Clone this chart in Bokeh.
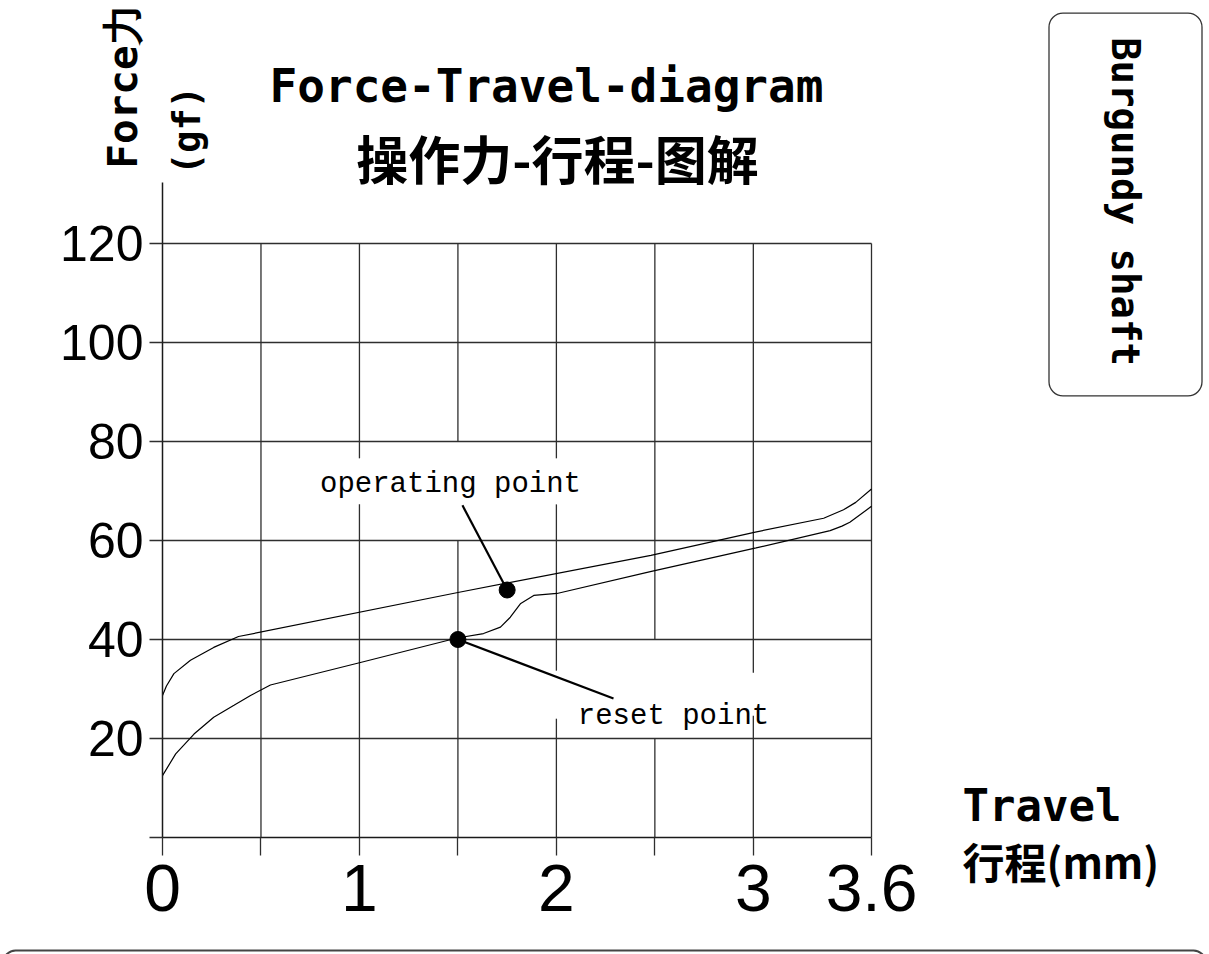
import math
from bokeh.plotting import figure
from bokeh.models import Range1d, FixedTicker, Label, BoxAnnotation
from bokeh.embed import file_html
from bokeh.resources import INLINE

# ---------------- data ----------------
x_ticks = [0, 1, 2, 3, 3.6]
x_tick_labels = ["0", "1", "2", "3", "3.6"]
x_minor_ticks = [0.5, 1.5, 2.5]
y_ticks = [0, 20, 40, 60, 80, 100, 120]
y_tick_labels = ["", "20", "40", "60", "80", "100", "120"]

# operating (press) curve
press_x = [0.0, 0.02, 0.058, 0.142, 0.26, 0.386, 1.5, 2.48, 3.01, 3.357, 3.458, 3.52, 3.6]
press_y = [28.7, 30.6, 33.1, 35.8, 38.4, 40.6, 49.5, 57.0, 61.7, 64.5, 66.2, 67.7, 70.4]

# reset (release) curve
release_x = [0.0, 0.067, 0.16, 0.26, 0.363, 0.447, 0.548, 1.0, 1.496, 1.63, 1.716,
             1.766, 1.817, 1.885, 2.003, 2.477, 3.014, 3.39, 3.45, 3.49, 3.6]
release_y = [12.5, 16.9, 20.9, 24.3, 26.7, 28.7, 30.8, 35.3, 40.3, 41.2, 42.5,
             44.5, 47.2, 48.9, 49.3, 53.7, 58.5, 62.0, 62.9, 63.7, 66.9]

point_names = ["operating point", "reset point"]
point_x = [1.75, 1.5]
point_y = [50.0, 40.0]

# ---------------- figure ----------------
W, H = 1209, 954
X0PX, X36PX = 162, 871          # pixel positions of x=0 and x=3.6
Y0PX, Y120PX = 837, 243         # pixel positions of y=0 and y=120
sx = (X36PX - X0PX) / 3.6
sy = (Y0PX - Y120PX) / 120.0

p = figure(width=W, height=H,
           x_range=Range1d(-X0PX / sx, (W - X0PX) / sx),
           y_range=Range1d(-(H - Y0PX) / sy, Y0PX / sy),
           output_backend="svg", toolbar_location=None,
           min_border=0)
p.outline_line_color = None
p.grid.visible = False
p.background_fill_color = "white"
p.border_fill_color = "white"

AX = "#1a1a1a"
GR = "#2e2e2e"
y_axis_top = 132.3

xa = p.xaxis[0]
xa.fixed_location = 0
xa.bounds = (0, x_ticks[-1])
xa.ticker = FixedTicker(ticks=x_ticks, minor_ticks=x_minor_ticks)
xa.major_label_overrides = {t: s for t, s in zip(x_ticks, x_tick_labels)}
xa.axis_line_color = AX
xa.axis_line_width = 1.5
xa.major_tick_out = 18
xa.major_tick_in = 0
xa.minor_tick_out = 18
xa.minor_tick_in = 0
xa.major_tick_line_color = GR
xa.minor_tick_line_color = GR
xa.major_tick_line_width = 1.3
xa.minor_tick_line_width = 1.3
xa.major_label_standoff = 9
xa.major_label_text_font = "Liberation Sans"
xa.major_label_text_font_size = "66px"
xa.major_label_text_color = "black"

ya = p.yaxis[0]
ya.fixed_location = 0
ya.bounds = (0, y_axis_top)
ya.ticker = FixedTicker(ticks=y_ticks, minor_ticks=[])
ya.major_label_overrides = {t: s for t, s in zip(y_ticks, y_tick_labels)}
ya.axis_line_color = AX
ya.axis_line_width = 1.5
ya.major_tick_out = 13
ya.major_tick_in = 0
ya.major_tick_line_color = GR
ya.major_tick_line_width = 1.3
ya.minor_tick_line_color = None
ya.major_label_standoff = 6
ya.major_label_text_font = "Liberation Sans"
ya.major_label_text_font_size = "50px"
ya.major_label_text_color = "black"

# ---------------- grid (drawn as segments, with the drawing's gaps) ----------------
x_right = x_ticks[-1]
h_y = [t for t in y_ticks if t > 0]
p.segment(x0=[0] * len(h_y), y0=h_y, x1=[x_right] * len(h_y), y1=h_y,
          line_color=GR, line_width=1.3)

v_spans = {
    0.5: [(0, 120)],
    1.0: [(0, 67.3), (76.6, 120)],
    1.5: [(0, 60), (80, 120)],
    2.0: [(0, 24.0), (33.7, 67.3), (76.6, 120)],
    2.5: [(0, 20), (40, 120)],
    3.0: [(0, 24.6), (33.3, 120)],
    3.6: [(0, 120)],
}
vx0, vy0, vy1 = [], [], []
for gx, spans in v_spans.items():
    for a, b in spans:
        vx0.append(gx)
        vy0.append(a)
        vy1.append(b)
p.segment(x0=vx0, y0=vy0, x1=vx0, y1=vy1, line_color=GR, line_width=1.3)

# ---------------- curves ----------------
p.line(press_x, press_y, line_color="black", line_width=1.2)
p.line(release_x, release_y, line_color="black", line_width=1.2)

# leader lines and points
p.line([1.523, point_x[0]], [67.1, point_y[0]], line_color="black", line_width=2.2)
p.line([point_x[1], 2.29], [point_y[1], 28.1], line_color="black", line_width=2.2)
p.scatter(point_x, point_y, size=16, color="black")


def px(xp):
    return (xp - X0PX) / sx


def py(yp):
    return (Y0PX - yp) / sy


def lab(x, y, text, font, size, align="center", baseline="middle", angle=0.0,
        style="normal", **kw):
    l = Label(x=px(x), y=py(y), text=text, text_font=font, text_font_size=size,
              text_align=align, text_baseline=baseline, angle=angle,
              text_font_style=style, text_color="black", **kw)
    p.add_layout(l)
    return l


MONO = "DejaVu Sans Mono"
CJK = "Noto Sans CJK SC"

lab(450, 484, point_names[0], "Liberation Mono", "29px")
lab(673, 716, point_names[1], "Liberation Mono", "29px")

# titles
lab(546, 85, "Force-Travel-diagram", MONO, "46px", style="bold")
lab(557, 157, "操作力-行程-图解", CJK, "52px", style="bold")

# y axis title (rotated)
lab(122, 86, "Force力", MONO, "41px", angle=math.pi / 2, style="bold")
lab(187, 130, "(gf)", MONO, "37px", angle=math.pi / 2, style="bold")

# x axis title
lab(962, 805, "Travel", MONO, "44px", align="left", style="bold")
lab(962, 860, "行程(mm)", CJK, "42px", align="left", style="bold")

# side box
lab(1125, 204, "Burgundy shaft", MONO, "39px", angle=-math.pi / 2, style="bold",
    border_line_color="#333333", border_line_width=1.3, background_fill_color="white",
    border_radius=14, padding=dict(left=24, right=30, top=54, bottom=54))

# bottom frame edge
p.add_layout(BoxAnnotation(left=px(3), right=px(1205), top=py(950), bottom=py(1000),
                           fill_color=None, fill_alpha=0, line_color="#444444",
                           line_alpha=1.0, line_width=2, border_radius=12))

open("out.html", "w").write(file_html(p, INLINE))
